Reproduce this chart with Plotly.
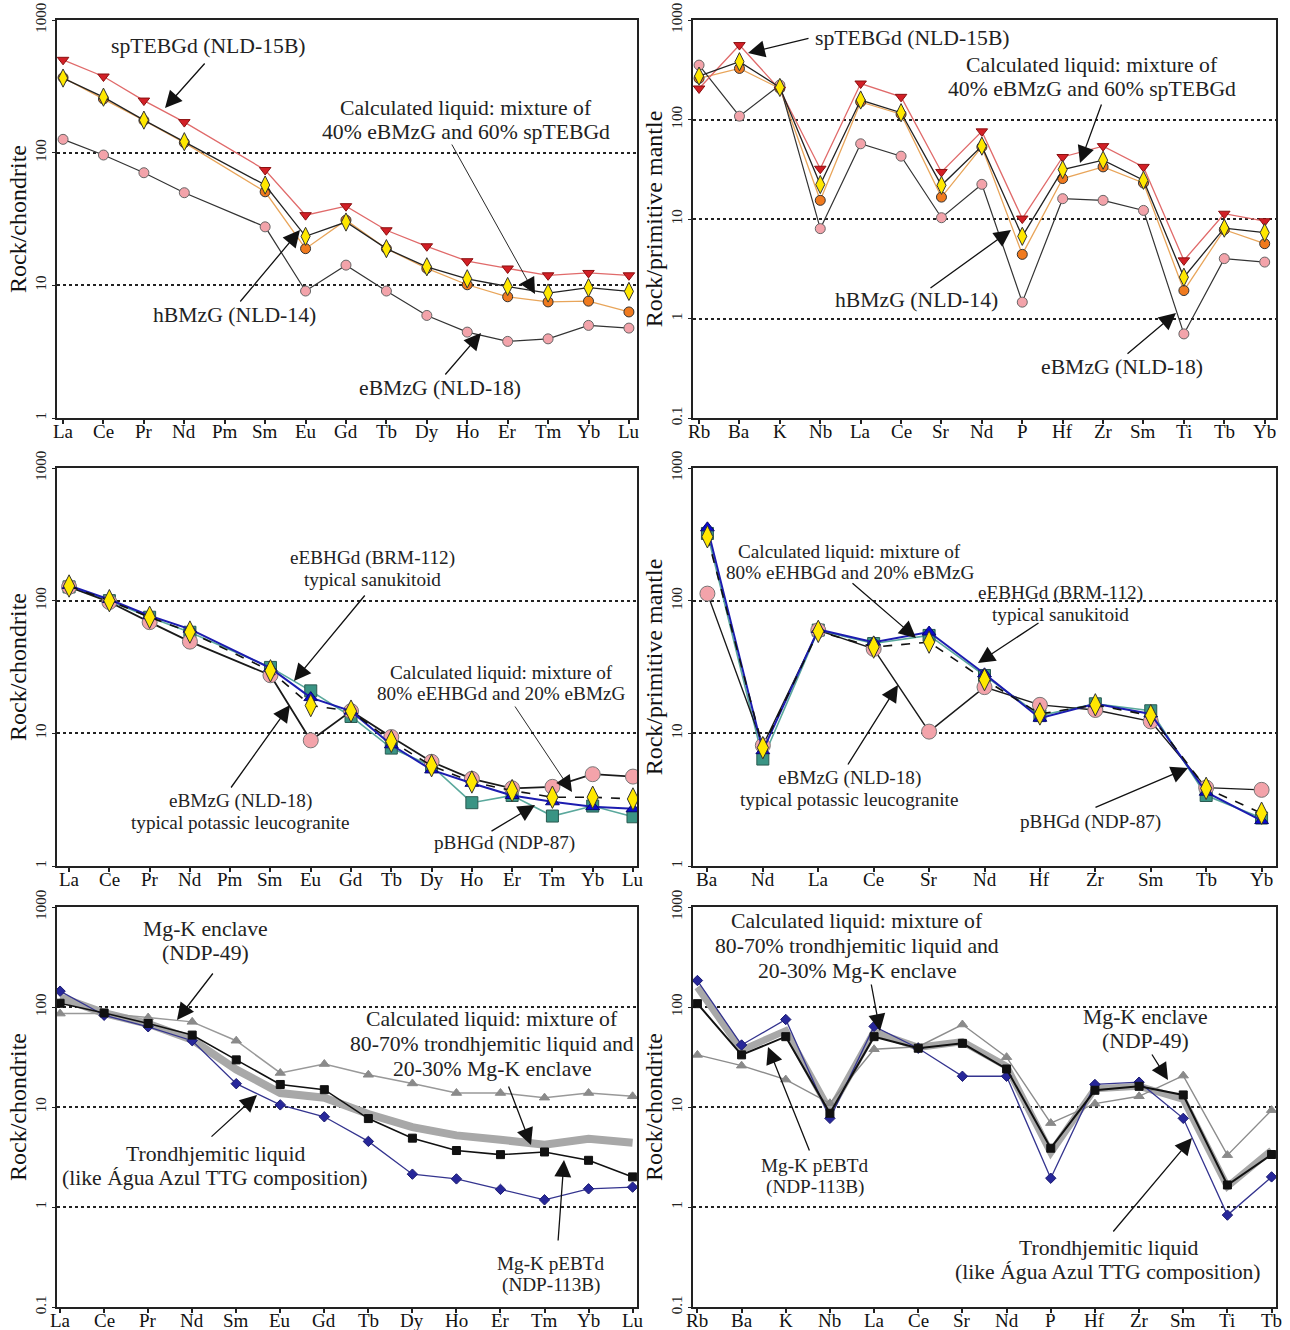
import math
import plotly.graph_objects as go

W, H = 1290, 1330
SERIF = "Liberation Serif"

# ---------------- categories ----------------
ree15 = ["La", "Ce", "Pr", "Nd", "Pm", "Sm", "Eu", "Gd", "Tb", "Dy", "Ho", "Er", "Tm", "Yb", "Lu"]
spider_tr = ["Rb", "Ba", "K", "Nb", "La", "Ce", "Sr", "Nd", "P", "Hf", "Zr", "Sm", "Ti", "Tb", "Yb"]
spider_mr = ["Ba", "Nd", "La", "Ce", "Sr", "Nd", "Hf", "Zr", "Sm", "Tb", "Yb"]
ree14 = ["La", "Ce", "Pr", "Nd", "Sm", "Eu", "Gd", "Tb", "Dy", "Ho", "Er", "Tm", "Yb", "Lu"]
spider_br = ["Rb", "Ba", "K", "Nb", "La", "Ce", "Sr", "Nd", "P", "Hf", "Zr", "Sm", "Ti", "Tb"]

# ---------------- top-left (REE / chondrite) ----------------
tl_spTEBGd = [501, 375, 247, 170, None, 74, 33.8, 39.5, 26, 19.7, 15.2, 13.4, 11.9, 12.4, 11.9]
tl_calc = [365, 262, 176, 121, None, 57, 23.4, 30, 18.9, 13.8, 11.2, 9.8, 8.75, 9.6, 9.0]
tl_hBMzG = [368, 254, 175, 119, None, 50.7, 18.9, 31, 18.9, 13.4, 10.1, 8.2, 7.5, 7.6, 6.3]
tl_eBMzG = [126, 96, 70.6, 49.9, None, 27.6, 9.06, 14.2, 9.06, 5.93, 4.44, 3.78, 3.95, 4.99, 4.76]

# ---------------- top-right (spider / primitive mantle) ----------------
tr_spTEBGd = [205, 560, 200, 32, 230, 169, 29.7, 76, 10.1, 42, 54, 33.4, 3.84, 11.3, 9.5]
tr_calc = [273, 381, 210, 22.2, 157, 117, 21.8, 54, 6.7, 31.4, 39, 24.5, 2.6, 8.1, 7.3]
tr_hBMzG = [259, 326, 205, 15.4, 150, 113, 16.6, 53, 4.41, 25.5, 33.4, 23, 1.91, 7.8, 5.65]
tr_eBMzG = [352, 108, 222, 8.0, 57, 42.8, 10.3, 22.3, 1.46, 16, 15.4, 12.2, 0.70, 4.0, 3.69]

# ---------------- middle-left ----------------
ml_eBMzG = [127, 97.7, 68.9, 49.1, None, 27.4, 8.85, 14.7, 9.38, 6.1, 4.54, 3.85, 3.95, 4.92, 4.72]
ml_pBHGd = [127, 100, 75, 57.8, None, 31.4, 20.9, 13.4, 7.74, 5.67, 3.0, 3.4, 2.38, 2.83, 2.35]
ml_eEBHGd = [130, 102, 77, 61, None, 31, 18.6, 14.7, 8.2, 5.3, 4.2, 3.4, 3.05, 2.8, 2.7]
ml_calc = [129, 100, 75, 58, None, 29.6, 16.2, 14.7, 8.7, 5.7, 4.3, 3.7, 3.3, 3.3, 3.2]

# ---------------- middle-right ----------------
mr_eBMzG = [113, 8.1, 59.7, 43.3, 10.3, 22.3, 16.4, 15.0, 12.3, 3.9, 3.75]
mr_pBHGd = [321, 6.4, 60, 47.5, 54.7, 27.3, 13.6, 16.7, 14.8, 3.4, 2.3]
mr_eEBHGd = [354, 7.4, 60.7, 48.7, 58, 28.1, 13.0, 16.7, 14.0, 3.6, 2.2]
mr_calc = [303, 7.8, 58.7, 44.7, 48.7, 25.4, 14.0, 16.4, 13.6, 3.85, 2.5]

# ---------------- bottom-left ----------------
bl_enclave = [85.9, 86, 78.4, 71, 46, 21.9, 26.9, 21, 17.2, 13.8, 13.8, 12.4, 13.8, 12.8]
bl_calc = [109, 87.2, 68.4, 52.4, 29.6, 16.8, 14.9, 7.66, 4.88, 3.67, 3.34, 3.55, 2.93, 2.0]
bl_pEBTd = [144, 82.7, 63.4, 46, 17.1, 10.5, 7.98, 4.53, 2.13, 1.91, 1.50, 1.18, 1.52, 1.58]
bl_trond = [125, 87, 68, 47, 23.7, 13.8, 12.4, 8.5, 6.3, 5.2, 4.7, 4.2, 4.8, 4.4]

# ---------------- bottom-right ----------------
br_enclave = [33.2, 25.9, 18.8, 10.9, 37.8, 40.1, 66.8, 31.5, 6.9, 10.8, 12.8, 20.6, 3.3, 9.3]
br_calc = [108, 33.2, 50.5, 8.66, 50.5, 38.7, 43.3, 24.0, 3.87, 14.7, 16.1, 13.2, 1.66, 3.35]
br_pEBTd = [184, 41.7, 75, 7.7, 64, 38.7, 20.3, 20.3, 1.94, 16.8, 17.7, 7.7, 0.83, 2.0]
br_trond = [158, 37, 58, 9.2, 56.6, 39.5, 45, 25.5, 3.5, 15.2, 16.1, 11.9, 1.6, 3.7]

ytick_vals = [0.1, 1, 10, 100, 1000]
ytick_text = ["0.1", "1", "10", "100", "1000"]

fig = go.Figure()

# panel boxes in pixels (left, right, top, bottom)
panels = [
    dict(box=(57, 637, 20, 418), labels=ree15, xr=(-0.15, 14.2), yr=(0, 3), title="Rock/chondrite"),
    dict(box=(693, 1276, 20, 418), labels=spider_tr, xr=(-0.15, 14.28), yr=(-1, 3), title="Rock/primitive mantle"),
    dict(box=(57, 637, 468, 866), labels=ree15, xr=(-0.3, 14.1), yr=(0, 3), title="Rock/chondrite"),
    dict(box=(693, 1276, 468, 866), labels=spider_mr, xr=(-0.26, 10.26), yr=(0, 3), title="Rock/primitive mantle"),
    dict(box=(57, 637, 907, 1307), labels=ree14, xr=(-0.07, 13.1), yr=(-1, 3), title="Rock/chondrite"),
    dict(box=(693, 1276, 907, 1307), labels=spider_br, xr=(-0.1, 13.1), yr=(-1, 3), title="Rock/chondrite"),
]

layout_axes = {}
annotations = []
for i, p in enumerate(panels):
    k = "" if i == 0 else str(i + 1)
    l, r, t, b = p["box"]
    n = len(p["labels"])
    layout_axes["xaxis" + k] = dict(
        domain=[l / W, r / W], range=list(p["xr"]), anchor="y" + k,
        tickmode="array", tickvals=list(range(n)), showticklabels=False,
        showline=True, linewidth=2, linecolor="#222", mirror=True,
        ticks="outside", ticklen=4, tickwidth=1.5, tickcolor="#222",
        showgrid=False, zeroline=False, automargin=False, fixedrange=True)
    vals = [v for v in ytick_vals if p["yr"][0] <= math.log10(v) <= p["yr"][1]]
    txt = [ytick_text[ytick_vals.index(v)] for v in vals]
    layout_axes["yaxis" + k] = dict(
        domain=[1 - b / H, 1 - t / H], type="log", range=list(p["yr"]), anchor="x" + k,
        tickmode="array", tickvals=vals, ticktext=txt, tickangle=-90,
        tickfont=dict(family=SERIF, size=15, color="#222"),
        showgrid=True, griddash="dot", gridcolor="#222", gridwidth=1.5,
        showline=True, linewidth=2, linecolor="#222", mirror=True,
        ticks="outside", ticklen=3, tickcolor="#222",
        title=dict(text=p["title"], font=dict(family=SERIF, size=24, color="#111"), standoff=0),
        zeroline=False, automargin=False, fixedrange=True)
    # category labels placed just under the axis line
    for j, lab in enumerate(p["labels"]):
        annotations.append(dict(text=lab, x=j, xref="x" + k, y=0, yref="y" + k + " domain",
                                yanchor="top", xanchor="center", yshift=-1, showarrow=False,
                                font=dict(family=SERIF, size=19, color="#111")))


def add(panel, y, line_color, line_width, symbol, msize, mfill, mline="#333", dash="solid", mlw=1):
    k = "" if panel == 0 else str(panel + 1)
    n = len(y)
    mode = "lines" if symbol is None else "lines+markers"
    tr = dict(x=list(range(n)), y=y, mode=mode, connectgaps=True,
              line=dict(color=line_color, width=line_width, dash=dash),
              xaxis="x" + k, yaxis="y" + k, showlegend=False, hoverinfo="skip")
    if symbol is not None:
        tr["marker"] = dict(symbol=symbol, size=msize, color=mfill, line=dict(color=mline, width=mlw))
    fig.add_trace(go.Scatter(**tr))


# top-left
add(0, tl_hBMzG, "#e8a55a", 1.3, "circle", 10, "#f07a1e")
add(0, tl_eBMzG, "#333333", 1.2, "circle", 10, "#f3a3aa", "#666")
add(0, tl_spTEBGd, "#e06a6a", 1.3, "triangle-down", 10, "#d21f26", "#8a1010")
add(0, tl_calc, "#222222", 1.3, "diamond-tall", 13, "#ffe800", "#333")
# top-right
add(1, tr_hBMzG, "#e8a55a", 1.3, "circle", 10, "#f07a1e")
add(1, tr_eBMzG, "#333333", 1.2, "circle", 10, "#f3a3aa", "#666")
add(1, tr_spTEBGd, "#e06a6a", 1.3, "triangle-down", 10, "#d21f26", "#8a1010")
add(1, tr_calc, "#222222", 1.3, "diamond-tall", 13, "#ffe800", "#333")
# middle-left
add(2, ml_pBHGd, "#5aa89c", 1.6, "square", 12, "#3a9484", "#2a5a50")
add(2, ml_eBMzG, "#1a1a1a", 1.8, "circle", 15, "#f3a3aa", "#777")
add(2, ml_eEBHGd, "#1c1cb0", 2.0, "triangle-up", 12, "#0a0ad0", "#0a0a70")
add(2, ml_calc, "#111111", 1.6, "diamond-tall", 16, "#ffe800", "#333", dash="dash")
# middle-right
add(3, mr_pBHGd, "#5aa89c", 1.6, "square", 12, "#3a9484", "#2a5a50")
add(3, mr_eBMzG, "#1a1a1a", 1.4, "circle", 15, "#f3a3aa", "#777")
add(3, mr_eEBHGd, "#1c1cb0", 2.0, "triangle-up", 12, "#0a0ad0", "#0a0a70")
add(3, mr_calc, "#111111", 1.6, "diamond-tall", 16, "#ffe800", "#333", dash="dash")
# bottom-left
add(4, bl_trond, "#a8a8a8", 8, None, 0, None)
add(4, bl_enclave, "#999999", 1.5, "triangle-up", 9, "#8a8a8a", "#8a8a8a")
add(4, bl_pEBTd, "#34348f", 1.3, "diamond", 8, "#27279a", "#1a1a70")
add(4, bl_calc, "#111111", 1.6, "square", 8, "#111111", "#111111")
# bottom-right
add(5, br_trond, "#a8a8a8", 7, None, 0, None)
add(5, br_enclave, "#8c8c8c", 1.4, "triangle-up", 9, "#8a8a8a", "#8a8a8a")
add(5, br_pEBTd, "#34348f", 1.3, "diamond", 8, "#27279a", "#1a1a70")
add(5, br_calc, "#111111", 2.0, "square", 8, "#111111", "#111111")

# ---------------- annotations (pixel positions of the picture) ----------------
def P(x, y):
    return x / W, 1 - y / H

BIG, MID = 21.7, 19.2
texts = [
    # top-left
    ("spTEBGd (NLD-15B)", 208, 46, BIG),
    ("Calculated liquid: mixture of<br>40% eBMzG and 60% spTEBGd", 466, 120, BIG),
    ("hBMzG (NLD-14)", 234, 315, BIG),
    ("eBMzG (NLD-18)", 440, 388, BIG),
    # top-right
    ("spTEBGd (NLD-15B)", 912, 38, BIG),
    ("Calculated liquid: mixture of<br>40% eBMzG and 60% spTEBGd", 1092, 77, BIG),
    ("hBMzG (NLD-14)", 916, 300, BIG),
    ("eBMzG (NLD-18)", 1122, 367, BIG),
    # middle-left
    ("eEBHGd (BRM-112)<br>typical sanukitoid", 372, 569, MID),
    ("Calculated liquid: mixture of<br>80% eEHBGd and 20% eBMzG", 501, 683, MID),
    ("eBMzG (NLD-18)<br>typical potassic leucogranite", 240, 812, MID),
    ("pBHGd (NDP-87)", 505, 843, MID),
    # middle-right
    ("Calculated liquid: mixture of<br>80% eEHBGd and 20% eBMzG", 850, 562, MID),
    ("eEBHGd (BRM-112)<br>typical sanukitoid", 1060, 604, MID),
    ("eBMzG (NLD-18)<br>typical potassic leucogranite", 849, 789, MID),
    ("pBHGd (NDP-87)", 1090, 822, MID),
    # bottom-left
    ("Mg-K enclave<br>(NDP-49)", 205, 941, BIG),
    ("Calculated liquid: mixture of<br>80-70% trondhjemitic liquid and<br>20-30% Mg-K enclave", 492, 1044, BIG),
    ("Trondhjemitic liquid<br>(like Água Azul TTG composition)", 215, 1166, BIG),
    ("Mg-K pEBTd<br>(NDP-113B)", 551, 1274, MID),
    # bottom-right
    ("Calculated liquid: mixture of<br>80-70% trondhjemitic liquid and<br>20-30% Mg-K enclave", 857, 946, BIG),
    ("Mg-K enclave<br>(NDP-49)", 1145, 1029, BIG),
    ("Mg-K pEBTd<br>(NDP-113B)", 815, 1176, MID),
    ("Trondhjemitic liquid<br>(like Água Azul TTG composition)", 1108, 1260, BIG),
]

arrows = [
    # (tail x, tail y, head x, head y, width)
    (206, 62, 165, 108, 1.3),
    (451, 143, 535, 294, 0.9),
    (239, 303, 300, 230, 1.3),
    (444, 376, 481, 333, 1.3),
    (810, 38, 748, 53, 1.3),
    (1102, 103, 1080, 163, 1.3),
    (929, 289, 1011, 230, 1.3),
    (1126, 355, 1176, 313, 1.3),
    (366, 594, 294, 681, 1.3),
    (514, 705, 572, 792, 0.9),
    (230, 789, 290, 705, 1.3),
    (490, 832, 535, 805, 1.3),
    (851, 582, 916, 638, 1.3),
    (1040, 622, 978, 663, 1.3),
    (847, 766, 898, 685, 1.3),
    (1094, 808, 1188, 768, 1.3),
    (214, 972, 177, 1020, 1.3),
    (508, 1085, 531, 1145, 1.3),
    (210, 1138, 257, 1095, 1.3),
    (558, 1242, 564, 1160, 1.3),
    (871, 983, 880, 1031, 1.3),
    (1151, 1053, 1168, 1080, 1.3),
    (810, 1152, 768, 1047, 1.3),
    (1112, 1233, 1192, 1138, 1.3),
]

for t, x, y, s in texts:
    lines = t.split("<br>")
    gap = s * 1.13
    for li, line in enumerate(lines):
        yy = y + (li - (len(lines) - 1) / 2) * gap
        px, py = P(x, yy)
        annotations.append(dict(text=line, x=px, y=py, xref="paper", yref="paper", showarrow=False,
                                font=dict(family=SERIF, size=s, color="#222"), align="center",
                                xanchor="center", yanchor="middle"))
for tx, ty, hx, hy, w in arrows:
    px, py = P(hx, hy)
    annotations.append(dict(text="", x=px, y=py, xref="paper", yref="paper", showarrow=True,
                            ax=tx - hx, ay=ty - hy, axref="pixel", ayref="pixel",
                            arrowhead=2, arrowsize=2.6 if w > 1 else 3.6, arrowwidth=w,
                            arrowcolor="#111", standoff=0))

fig.update_layout(
    width=W, height=H, margin=dict(l=0, r=0, t=0, b=0),
    paper_bgcolor="white", plot_bgcolor="white",
    font=dict(family=SERIF, color="#222"),
    annotations=annotations, showlegend=False, hovermode=False,
    **layout_axes)

fig.write_html("out.html", config={"displayModeBar": False},
               post_script="document.body.style.margin='0px';")
